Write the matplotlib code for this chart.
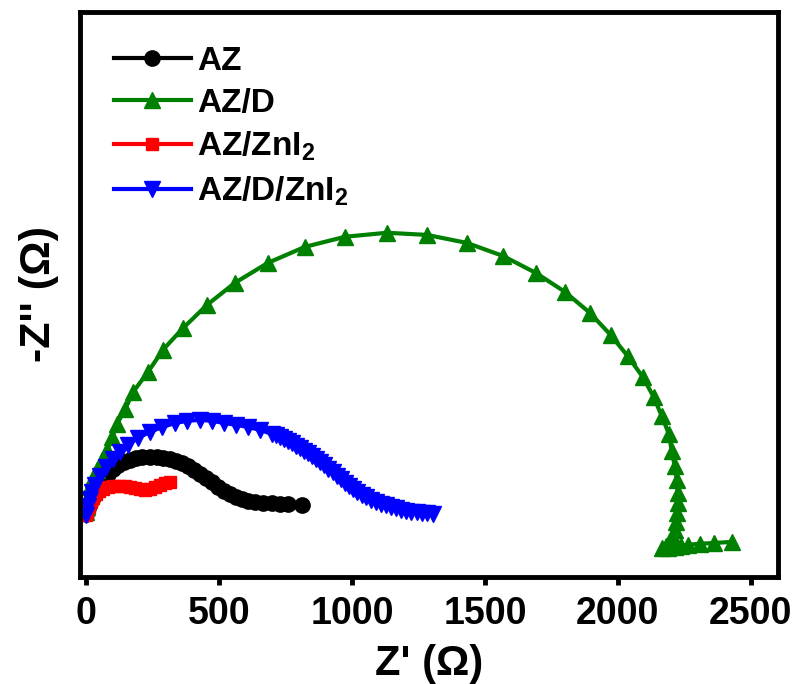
import numpy as np
import matplotlib
matplotlib.use("Agg")
import matplotlib.pyplot as plt

plt.rcParams['font.family'] = ['Liberation Sans', 'DejaVu Sans']
plt.rcParams['font.weight'] = 'bold'
plt.rcParams['mathtext.fontset'] = 'custom'
plt.rcParams['mathtext.rm'] = 'Liberation Sans:bold'
plt.rcParams['mathtext.bf'] = 'Liberation Sans:bold'
plt.rcParams['mathtext.default'] = 'rm'

# Nyquist data, Z' and -Z'' in ohm
az_x = [0, 8, 15, 26, 38, 53, 68, 83, 101, 120, 143, 165, 188, 211, 241, 267, 289, 316,
        338, 361, 383, 406, 429, 451, 474, 496, 519, 541, 564, 586, 609, 635, 665, 699,
        729, 759, 812]
az_y = [11, 34, 53, 75, 98, 120, 143, 162, 180, 195, 207, 214, 222, 226, 226, 226, 222, 218,
        211, 203, 192, 177, 162, 147, 132, 113, 98, 86, 75, 68, 60, 56, 53, 53,
        49, 49, 45]

azd_x = [0, 4, 8, 15, 26, 41, 60, 79, 98, 117, 147, 177, 233, 289, 365, 455, 560, 684,
         823, 974, 1131, 1282, 1432, 1568, 1692, 1801, 1895, 1973, 2037, 2094, 2135, 2165,
         2192, 2203, 2214, 2222, 2225, 2225, 2222, 2218, 2214, 2207, 2195, 2180, 2165,
         2188, 2214, 2237, 2263, 2308, 2361, 2428]
azd_y = [19, 38, 75, 113, 147, 177, 214, 252, 301, 350, 406, 470, 545, 628, 710, 797, 880, 955,
         1015, 1053, 1068, 1060, 1030, 981, 917, 846, 767, 684, 605, 526, 451, 380,
         312, 248, 192, 139, 90, 53, 15, -19, -49, -75, -94, -109, -117,
         -117, -113, -109, -105, -101, -98, -94]

azzn_x = [0, 4, 11, 19, 26, 38, 49, 64, 83, 101, 124, 147, 165, 184, 203, 222, 241, 259,
          278, 297, 316]
azzn_y = [8, 19, 38, 56, 71, 86, 98, 105, 113, 117, 117, 117, 113, 109, 105, 101, 105, 113,
          120, 128, 132]

azdzn_x = [0, 8, 15, 23, 34, 53, 75, 101, 128, 158, 195, 241, 286, 335, 380, 429, 474, 519,
           564, 609, 654, 699, 714, 729, 744, 759, 774, 789, 804, 819, 835, 850, 865, 880,
           895, 910, 927, 944, 959, 974, 989, 1004, 1020, 1037, 1054, 1071, 1090, 1109,
           1128, 1147, 1166, 1184, 1203, 1222, 1243, 1263, 1284, 1304]
azdzn_y = [8, 41, 68, 94, 120, 154, 188, 218, 244, 271, 297, 320, 338, 353, 361, 365, 361, 353,
           346, 338, 327, 312, 307, 301, 294, 286, 277, 267, 258, 248, 239, 229, 218, 207,
           194, 180, 167, 154, 141, 128, 116, 105, 94, 83, 73, 64, 56, 49,
           43, 38, 32, 26, 23, 19, 17, 15, 13, 11]

x_ticks = [0, 500, 1000, 1500, 2000, 2500]

fig = plt.figure(figsize=(7.97, 6.84), dpi=100)
ax = fig.add_axes([0.1004, 0.1564, 0.8752, 0.8261])

ax.plot(az_x, az_y, color='black', marker='o', markersize=11, lw=3, label='AZ')
ax.plot(azd_x, azd_y, color='#008000', marker='^', markersize=12, lw=3, label='AZ/D')
ax.plot(azzn_x, azzn_y, color='#ff0000', marker='s', markersize=9, lw=3, label='AZ/ZnI$_2$')
ax.plot(azdzn_x, azdzn_y, color='#0000ff', marker='v', markersize=12, lw=3,
        label='AZ/D/ZnI$_2$')

ax.set_xlim(-23, 2601)
ax.set_ylim(-226, 1898)
ax.set_xticks(x_ticks)
ax.set_yticks([])

for s in ax.spines.values():
    s.set_linewidth(3.5)
ax.tick_params(axis='x', direction='out', length=6, width=3.5, labelsize=27, pad=8)
ax.tick_params(axis='y', left=False)

ax.set_xlabel("Z' (\u03a9)", fontsize=30, fontweight='bold', labelpad=8)
ax.set_ylabel("-Z'' (\u03a9)", fontsize=31, fontweight='bold', labelpad=15)

ax.legend(loc='upper left', bbox_to_anchor=(0.02, 0.975), frameon=False, fontsize=24,
          handlelength=2.3, handletextpad=0.2, labelspacing=0.33, borderaxespad=0.2)

fig.savefig('out.png', dpi=100)
